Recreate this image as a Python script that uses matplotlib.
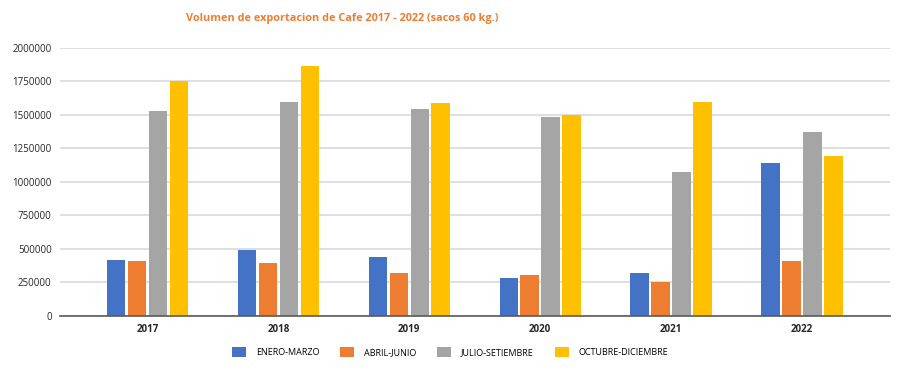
import matplotlib
matplotlib.use('Agg')
import matplotlib.pyplot as plt
import numpy as np

plt.rcParams['font.family'] = ['Open Sans', 'DejaVu Sans']

years = ['2017', '2018', '2019', '2020', '2021', '2022']
enero_marzo = [416000, 491000, 436000, 284000, 317000, 1139000]
abril_junio = [406000, 391000, 317000, 304000, 252000, 406000]
julio_setiembre = [1532000, 1597000, 1542000, 1485000, 1074000, 1373000]
octubre_diciembre = [1756000, 1868000, 1587000, 1497000, 1597000, 1196000]
series_names = ['ENERO-MARZO', 'ABRIL-JUNIO', 'JULIO-SETIEMBRE', 'OCTUBRE-DICIEMBRE']
yticks = [0, 250000, 500000, 750000, 1000000, 1250000, 1500000, 1750000, 2000000]

colors = ['#4472C4', '#ED7D31', '#A5A5A5', '#FFC000']
W, H = 908, 376
fig = plt.figure(figsize=(W / 100, H / 100), dpi=100)
ax = fig.add_axes([60 / W, 1 - 315.7 / H, 830 / W, (315.7 - 48) / H])

x = np.arange(len(years))
width = 0.141
pitch = 0.160
all_series = [enero_marzo, abril_junio, julio_setiembre, octubre_diciembre]
for i, (vals, name) in enumerate(zip(all_series, series_names)):
    ax.bar(x + (i - 1.5) * pitch, vals, width, color=colors[i], label=name, zorder=3)

ax.set_ylim(0, 2000000)
ax.set_xlim(-0.668, 5.672)
ax.set_yticks(yticks)
ax.set_yticklabels([str(v) for v in yticks])
ax.set_xticks(x)
ax.set_xticklabels(years, fontweight='bold')
ax.grid(axis='y', color='#d9d9d9', linewidth=1.2, zorder=0)
for s in ['top', 'right', 'left']:
    ax.spines[s].set_visible(False)
ax.spines['bottom'].set_color('#595959')
ax.spines['bottom'].set_linewidth(1.2)
ax.spines['bottom'].set_zorder(4)
ax.tick_params(axis='both', length=0, labelsize=7, colors='#262626', pad=6)

fig.text(342 / W, 1 - 18 / H, 'Volumen de exportacion de Cafe 2017 - 2022 (sacos 60 kg.)',
         color='#ED7D31', fontsize=7.8, fontweight='bold', ha='center', va='center')

fig.legend(loc='center', bbox_to_anchor=(450 / W, 1 - 352 / H), ncol=4, frameon=False,
           fontsize=6.5, handlelength=1.55, handleheight=1.4, columnspacing=2.3, handletextpad=1.1)

fig.savefig('out.png', dpi=100)
